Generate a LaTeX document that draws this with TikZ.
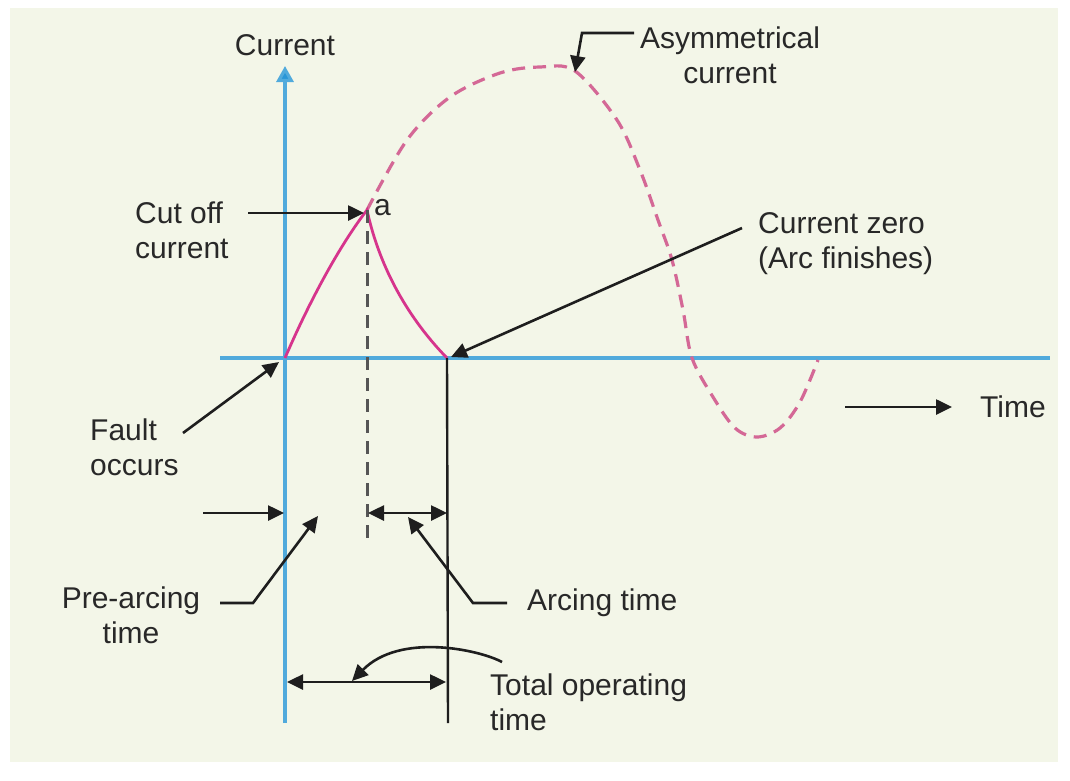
\documentclass[tikz,border=0pt]{standalone}
\usepackage{fontspec}
\setmainfont{Liberation Sans}
\usetikzlibrary{arrows.meta}
\definecolor{bgc}{RGB}{243,246,232}
\definecolor{axisblue}{RGB}{80,170,220}
\definecolor{axishead}{RGB}{40,150,215}
\definecolor{solidmag}{RGB}{214,52,140}
\definecolor{dashpink}{RGB}{212,104,150}
\definecolor{txt}{RGB}{40,40,40}
\definecolor{lead}{RGB}{30,30,30}
\definecolor{guide}{RGB}{85,85,85}
\begin{document}
\begin{tikzpicture}[x=1pt,y=-1pt,
  lbl/.style={font=\fontsize{30}{35}\selectfont, text=txt, inner sep=0pt, align=left},
  leader/.style={draw=lead, line width=2.6pt, -{Triangle[length=16pt,width=15pt]}},
  dleader/.style={draw=lead, line width=2.6pt, {Triangle[length=16pt,width=15pt]}-{Triangle[length=16pt,width=15pt]}},
  axisline/.style={draw=axisblue, line width=3.2pt}]
\useasboundingbox (0,0) rectangle (1070,780);
\fill[white] (0,0) rectangle (1070,780);
\fill[bgc] (10,8) rectangle (1058,762);

% axes
\coordinate (O) at (285,358);
\coordinate (ytop) at (285,66);
\coordinate (ybot) at (285,723);
\coordinate (xl) at (220,358);
\coordinate (xr) at (1050,358);
\draw[axisline] (xl) -- (xr);
\draw[axisline, -{Triangle[length=16pt,width=17pt,fill=axishead]}] (ybot) -- (ytop);

% curves
\coordinate (a) at (367,210);
\coordinate (z) at (447,358);
\coordinate (gbot) at (367,543);
\coordinate (zbot) at (448,723);
\draw[dashpink, line width=3.2pt, dash pattern=on 13pt off 8pt]
  plot[smooth, tension=0.55] coordinates {(367,210) (407,140) (450,97) (500,73) (540,67) (575,71) (617,120) (640,170) (658,220) (672,260) (683,310) (692,358) (713,397) (735,428) (757,437) (780,428) (800,402) (818,360)};
\draw[solidmag, line width=2.8pt] (O) .. controls (310,300) and (340,245) .. (a)
  .. controls (380,270) and (410,320) .. (z);
\draw[guide, line width=3pt, dash pattern=on 13pt off 8pt] (a) -- (gbot);
\draw[lead, line width=2.4pt] (z) -- (zbot);

% labels (base anchor = baseline of last line)
\node[lbl, anchor=base] (lcur) at (285,55) {Current};
\node[lbl, anchor=base, align=center] (lasym) at (730,83) {Asymmetrical\\current};
\node[lbl, anchor=base west] (lcut) at (135,258) {Cut off\\current};
\node[lbl, anchor=base west] (la) at (374,215) {a};
\node[lbl, anchor=base west] (lzero) at (758,268) {Current zero\\(Arc finishes)};
\node[lbl, anchor=base west] (lfault) at (90,475) {Fault\\occurs};
\node[lbl, anchor=base west] (ltime) at (980,417) {Time};
\node[lbl, anchor=base, align=center] (lpre) at (131,643) {Pre-arcing\\time};
\node[lbl, anchor=base west] (larc) at (527,610) {Arcing time};
\node[lbl, anchor=base west] (ltot) at (490,730) {Total operating\\time};

% connectors
\coordinate (cutS) at (248,213); \coordinate (cutE) at (364,213);
\draw[leader] (cutS) -- (cutE);
\coordinate (faS) at (183,433); \coordinate (faE) at (279,362);
\draw[leader] (faS) -- (faE);
\coordinate (zeS) at (742,228); \coordinate (zeE) at (451,357);
\draw[leader] (zeS) -- (zeE);
\coordinate (asS) at (634,33); \coordinate (asK) at (582,33); \coordinate (asE) at (575,72);
\draw[leader] (asS) -- (asK) -- (asE);
\coordinate (tiS) at (845,407); \coordinate (tiE) at (952,407);
\draw[leader] (tiS) -- (tiE);
\coordinate (bS) at (203,513); \coordinate (bE) at (284,513);
\draw[leader] (bS) -- (bE);
\coordinate (prS) at (220,603); \coordinate (prK) at (253,603); \coordinate (prE) at (318,516);
\draw[leader] (prS) -- (prK) -- (prE);
\coordinate (arL) at (368,513); \coordinate (arR) at (447,513);
\draw[dleader] (arL) -- (arR);
\coordinate (alS) at (507,603); \coordinate (alK) at (473,603); \coordinate (alE) at (408,517);
\draw[leader] (alS) -- (alK) -- (alE);
\coordinate (toL) at (287,682); \coordinate (toR) at (446,682);
\draw[dleader] (toL) -- (toR);
\coordinate (tcS) at (502,662); \coordinate (tcE) at (352,681);
\draw[leader] (tcS) .. controls (480,650) and (400,632) .. (tcE);
\end{tikzpicture}
\end{document}
